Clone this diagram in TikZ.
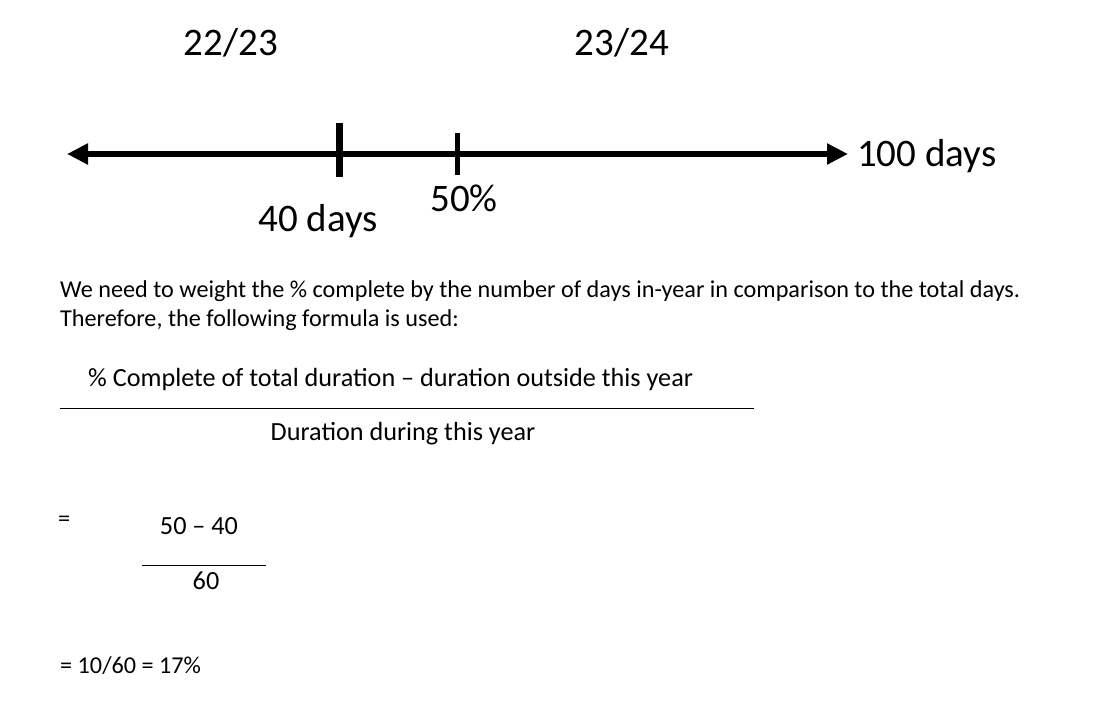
\documentclass[tikz,border=0pt]{standalone}
\usepackage{fontspec}
\setmainfont{Carlito}
\usetikzlibrary{arrows.meta}
\begin{document}
\begin{tikzpicture}[x=1pt,y=-1pt,
  big/.style={font=\fontsize{39}{44}\selectfont, inner sep=0pt},
  body/.style={font=\fontsize{24.2}{28}\selectfont, inner sep=0pt, anchor=base west},
  form/.style={font=\fontsize{26.2}{30}\selectfont, inner sep=0pt, anchor=base west},
  axis/.style={line width=6.5pt, {Triangle[length=21pt,width=20pt]}-{Triangle[length=21pt,width=20pt]}},
  tick/.style={line width=#1},
  bar/.style={line width=1pt}]
\useasboundingbox (0,0) rectangle (1096,708);
% header labels
\node[big, anchor=base] (y1) at (231,56) {22/23};
\node[big, anchor=base] (y2) at (622,56) {23/24};
% axis
\coordinate (L) at (67,154);
\coordinate (R) at (848,154);
\draw[axis] (L) -- (R);
\coordinate (t1a) at (339,123);
\coordinate (t1b) at (339,177);
\coordinate (t2a) at (457,133);
\coordinate (t2b) at (457,175);
\draw[tick=7pt] (t1a) -- (t1b);
\draw[tick=5pt] (t2a) -- (t2b);
\node[big, anchor=base west] (d100) at (857,167) {100 days};
\node[big, anchor=base] (d40) at (318,232) {40 days};
\node[big, anchor=base] (p50) at (464,212) {50\%};
% text
\node[body] (t1) at (60,298) {We need to weight the \% complete by the number of days in-year in comparison to the total days.};
\node[body] (t2) at (60,327) {Therefore, the following formula is used:};
\node[form] (num) at (88,387) {\% Complete of total duration – duration outside this year};
\coordinate (b1) at (60,409);
\coordinate (b2) at (754,409);
\draw[bar] (b1) -- (b2);
\node[form, anchor=base] (den) at (403,441) {Duration during this year};
\node[body] (eq1) at (58,527) {=};
\node[form, anchor=base] (n2) at (199,535) {50 – 40};
\coordinate (c1) at (142,566);
\coordinate (c2) at (266,566);
\draw[bar] (c1) -- (c2);
\node[form, anchor=base] (d2) at (206,589) {60};
\node[body] (res) at (60,673) {= 10/60 = 17\%};
\end{tikzpicture}
\end{document}
